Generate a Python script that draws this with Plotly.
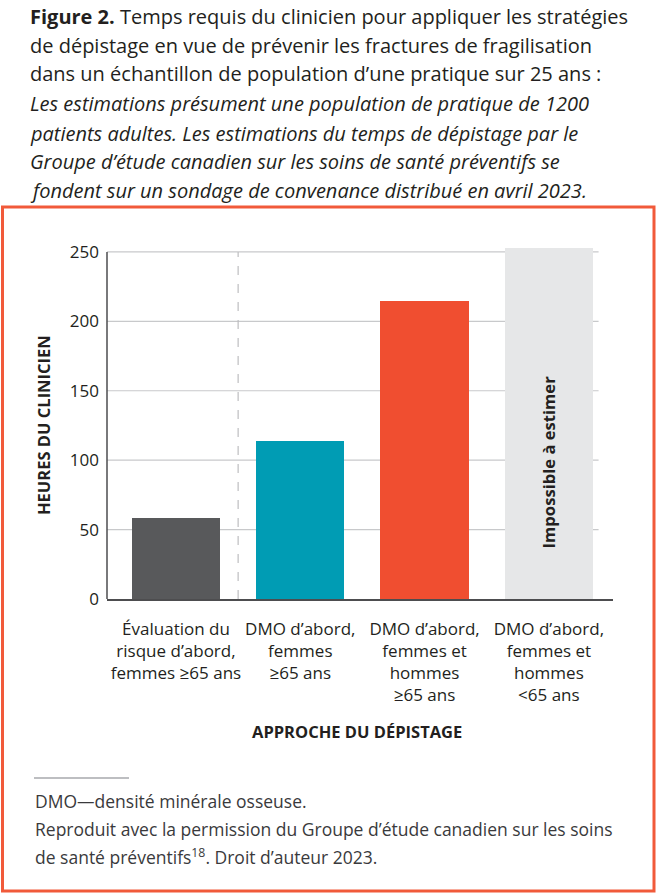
import plotly.graph_objects as go

# ---------------- data ----------------
categories = [
    "Évaluation du<br>risque d’abord,<br>femmes ≥65 ans",
    "DMO d’abord,<br>femmes<br>≥65 ans",
    "DMO d’abord,<br>femmes et<br>hommes<br>≥65 ans",
    "DMO d’abord,<br>femmes et<br>hommes<br><65 ans",
]
hours = [58, 114, 215, 253]
bar_colors = ["#58595B", "#009CB4", "#F04E30", "#E6E7E8"]
y_ticks = [0, 50, 100, 150, 200, 250]

title_lines = [
    "<b>Figure 2.</b> Temps requis du clinicien pour appliquer les stratégies",
    "de dépistage en vue de prévenir les fractures de fragilisation",
    "dans un échantillon de population d’une pratique sur 25 ans :",
    "<i>Les estimations présument une population de pratique de 1200</i>",
    "<i>patients adultes. Les estimations du temps de dépistage par le</i>",
    "<i>Groupe d’étude canadien sur les soins de santé préventifs se</i>",
    "<i>fondent sur un sondage de convenance distribué en avril 2023.</i>",
]
foot_lines = [
    "DMO—densité minérale osseuse.",
    "Reproduit avec la permission du Groupe d’étude canadien sur les soins",
    "de santé préventifs<sup>18</sup>. Droit d’auteur 2023.",
]

# ---------------- layout geometry ----------------
W, H = 657, 894
L, R, T, B = 107, 44, 245, 295
PW, PH = W - L - R, H - T - B
FONT = "Open Sans"
TXT = "#231F20"


def px(x):
    return (x - L) / PW


def py(y):
    return (H - B - y) / PH


fig = go.Figure()
fig.add_trace(go.Bar(
    x=list(range(len(categories))), y=hours, width=0.71,
    marker=dict(color=bar_colors, line=dict(width=0)),
    hoverinfo="skip", showlegend=False,
))

shapes = []
for v in y_ticks[1:]:
    shapes.append(dict(type="line", xref="x", yref="y", x0=-0.56, x1=3.40, y0=v, y1=v,
                       line=dict(color="#C8C9CB", width=1.2), layer="below"))
shapes.append(dict(type="line", xref="paper", yref="y", x0=0, x1=0, y0=0, y1=250,
                   line=dict(color="#4D4D4F", width=1.5)))
shapes.append(dict(type="line", xref="x", yref="y", x0=0.5, x1=0.5, y0=0, y1=250,
                   line=dict(color="#BDBEC0", width=1.2, dash="dash"), layer="below"))
shapes.append(dict(type="rect", xref="paper", yref="paper", x0=px(2.5), x1=px(654), y0=py(207), y1=py(891),
                   line=dict(color="#F15A3A", width=3)))
shapes.append(dict(type="line", xref="paper", yref="paper", x0=px(34), x1=px(129), y0=py(778), y1=py(778),
                   line=dict(color="#A7A9AC", width=1.5)))

annotations = []
title_y = [16, 45, 74, 104, 133, 161, 190]
for t, yy in zip(title_lines, title_y):
    annotations.append(dict(text=t, xref="paper", yref="paper", x=px(28), y=py(yy),
                            xanchor="left", yanchor="middle", showarrow=False,
                            font=dict(family=FONT, size=20, color=TXT, weight=500)))
foot_y = [801, 829, 857]
for t, yy in zip(foot_lines, foot_y):
    annotations.append(dict(text=t, xref="paper", yref="paper", x=px(33), y=py(yy),
                            xanchor="left", yanchor="middle", showarrow=False,
                            font=dict(family=FONT, size=17.5, color="#3A3A3C")))
annotations.append(dict(text="<b>HEURES DU CLINICIEN</b>", xref="paper", yref="paper",
                        x=px(43), y=py(425), textangle=-90, showarrow=False,
                        xanchor="center", yanchor="middle",
                        font=dict(family=FONT, size=16.5, color=TXT)))
annotations.append(dict(text="<b>APPROCHE DU DÉPISTAGE</b>", xref="paper", yref="paper",
                        x=px(357), y=py(731), showarrow=False,
                        xanchor="center", yanchor="middle",
                        font=dict(family=FONT, size=16.5, color=TXT)))
annotations.append(dict(text="<b>Impossible à estimer</b>", xref="x", yref="y",
                        x=3, y=99, textangle=-90, showarrow=False,
                        xanchor="center", yanchor="middle",
                        font=dict(family=FONT, size=16.6, color=TXT)))

fig.update_layout(
    width=W, height=H,
    margin=dict(l=L, r=R, t=T, b=B),
    paper_bgcolor="white", plot_bgcolor="white",
    bargap=0,
    shapes=shapes, annotations=annotations,
    xaxis=dict(range=[-0.555, 3.516], tickvals=list(range(len(categories))), ticktext=categories,
               showgrid=False, zeroline=False, showline=True, linecolor="#4D4D4F", linewidth=1.5,
               ticks="", ticklabelstandoff=14,
               tickfont=dict(family=FONT, size=17, color=TXT, weight=500), fixedrange=True),
    yaxis=dict(range=[0, 255], tickvals=y_ticks, showgrid=False, zeroline=False, showline=False,
               ticks="", ticklabelstandoff=7,
               tickfont=dict(family=FONT, size=17, color=TXT, weight=500), fixedrange=True),
)

fig.write_html("out.html", config={"displayModeBar": False},
               post_script="document.body.style.margin='0';document.body.style.overflow='hidden';")
